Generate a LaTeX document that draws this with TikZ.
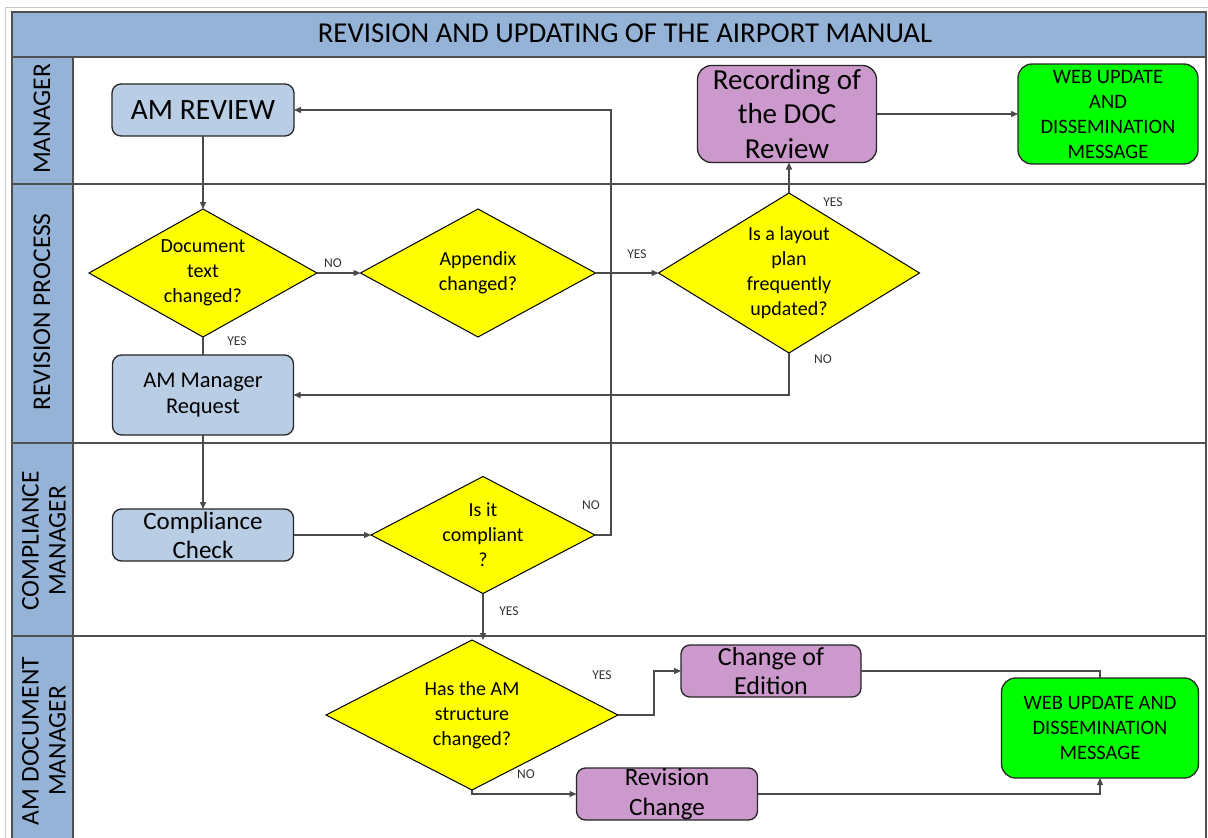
\documentclass[tikz,border=0pt]{standalone}
\usepackage{fontspec}
\setmainfont{Carlito}
\usetikzlibrary{shapes.geometric,arrows.meta,calc}
\definecolor{hdrblue}{HTML}{95B3D7}
\definecolor{boxblue}{HTML}{B9CDE5}
\definecolor{purp}{HTML}{CC99CC}
\definecolor{grn}{HTML}{00FF00}
\definecolor{yel}{HTML}{FFFF00}
\definecolor{linec}{HTML}{4A4A4A}
\definecolor{lanec}{HTML}{505050}
\definecolor{framec}{HTML}{C8C8C8}
\newcommand{\fsz}[2]{\fontsize{#1}{#2}\selectfont}
\begin{document}
\begin{tikzpicture}[x=1pt,y=-1pt,
  every node/.style={inner sep=0pt, outer sep=0pt},
  box/.style={rectangle, rounded corners=9pt, draw=black!85, line width=1.3pt},
  bluebox/.style={box, fill=boxblue},
  purpbox/.style={box, fill=purp},
  grnbox/.style={box, fill=grn, rounded corners=14pt},
  dia/.style={diamond, draw=black, line width=1pt, fill=yel},
  txt/.style={align=center, text=black},
  conn/.style={draw=linec, line width=1.3pt, -{Triangle[length=7pt,width=6pt]}},
  plain/.style={draw=linec, line width=1.3pt},
  yn/.style={font=\fsz{13.5}{15}, text=black!80},
  lane/.style={rotate=90, align=center, font=\fsz{25.5}{27}},
]
\useasboundingbox (0,0) rectangle (1208,838);
\fill[white] (0,0) rectangle (1208,838);
% outer light frame
\draw[framec, line width=1pt] (5,838) -- (5,7) -- (1208,7);
% header
\filldraw[fill=hdrblue, draw=lanec, line width=1.3pt] (12,12) rectangle (1206,57);
\node[font=\fsz{28.8}{32}] (title) at (625,33) {REVISION AND UPDATING OF THE AIRPORT MANUAL};
% label column
\filldraw[fill=hdrblue, draw=lanec, line width=1.3pt] (12,57) rectangle (73,840);
\draw[lanec, line width=1.3pt] (1206,57) -- (1206,840);
\foreach \yy in {184,443,636} \draw[lanec, line width=1.5pt] (12,\yy) -- (1206,\yy);
% lane labels
\node[lane] (l1) at (42,119) {MANAGER};
\node[lane] (l2) at (42,312) {REVISION PROCESS};
\node[lane] (l3) at (44,541) {COMPLIANCE\\MANAGER};
\node[lane] (l4) at (44,741) {AM DOCUMENT\\MANAGER};

% nodes
\node[bluebox, minimum width=182pt, minimum height=52pt,
  label={[txt,font=\fsz{29.5}{34}]center:AM REVIEW}] (amreview) at (203,110) {};
\node[dia, minimum width=228pt, minimum height=128pt,
  label={[txt,font=\fsz{20}{25}]center:{Document\\text\\changed?}}] (doc) at (203,273) {};
\node[dia, minimum width=235pt, minimum height=128pt,
  label={[txt,font=\fsz{20}{25}]center:{Appendix\\changed?}}] (app) at (478,273) {};
\node[dia, minimum width=261pt, minimum height=160pt,
  label={[txt,font=\fsz{20}{25}]center:{Is a layout\\plan\\frequently\\updated?}}] (layout) at (789,273) {};
\node[bluebox, minimum width=181pt, minimum height=80pt,
  label={[txt,font=\fsz{22.5}{26}]center:{AM Manager\\Request}}] (amreq) at (203,395) {};
\node[bluebox, minimum width=181pt, minimum height=52pt,
  label={[txt,font=\fsz{25}{29}]center:{Compliance\\Check}}] (comp) at (203,535) {};
\node[dia, minimum width=224pt, minimum height=117pt,
  label={[txt,font=\fsz{20}{25}]center:{Is it\\compliant\\?}}] (isc) at (483,535) {};
\node[purpbox, rounded corners=14pt, minimum width=179pt, minimum height=97pt,
  label={[txt,font=\fsz{29}{34.5}]center:{Recording of\\the DOC\\Review}}] (rec) at (787,114) {};
\node[grnbox, minimum width=180pt, minimum height=100pt,
  label={[txt,font=\fsz{20.5}{25}]center:{WEB UPDATE\\AND\\DISSEMINATION\\MESSAGE}}] (web1) at (1108,114) {};
\node[dia, minimum width=292pt, minimum height=150pt,
  label={[txt,font=\fsz{20}{25}]center:{Has the AM\\structure\\changed?}}] (has) at (472,715) {};
\node[purpbox, minimum width=180pt, minimum height=52pt,
  label={[txt,font=\fsz{26}{29}]center:{Change of\\Edition}}] (coe) at (771,671) {};
\node[purpbox, minimum width=181pt, minimum height=52pt,
  label={[txt,font=\fsz{25}{30}]center:{Revision\\Change}}] (revc) at (667,794) {};
\node[grnbox, minimum width=197pt, minimum height=100pt,
  label={[txt,font=\fsz{20.5}{25}]center:{WEB UPDATE AND\\DISSEMINATION\\MESSAGE}}] (web2) at (1100,728) {};

\coordinate (nob) at (611,110);

% connectors
\draw[conn] (amreview.south) -- (doc.north);
\draw[conn] (doc.east) -- (app.west);
\draw[plain] (doc.south) -- (amreq.north);
\draw[conn] (app.east) -- (layout.west);
\draw[conn] (layout.north) -- (layout.north |- rec.south);
\draw[conn] (layout.south) |- (amreq.east);
\draw[conn] (amreq.south) -- (comp.north);
\draw[conn] (comp.east) -- (isc.west);
\draw[conn] (isc.east) -| (nob) -- (amreview.east);
\draw[conn] (isc.south) -- (isc.south |- has.north);
\draw[conn] (has.east) -- ++(36,0) |- (coe.west);
\draw[conn] (has.south) |- (revc.west);
\draw[plain] (coe.east) -| (web2.north);
\draw[conn] (revc.east) -| (web2.south);
\draw[conn] (rec.east) -- (web1.west);

% yes/no labels
\node[yn] (n1) at (333,263) {NO};
\node[yn] (y1) at (237,341) {YES};
\node[yn] (y2) at (637,254) {YES};
\node[yn] (y3) at (833,202) {YES};
\node[yn] (n2) at (823,359) {NO};
\node[yn] (n3) at (591,505) {NO};
\node[yn] (y4) at (509,611) {YES};
\node[yn] (y5) at (602,675) {YES};
\node[yn] (n4) at (526,774) {NO};
\end{tikzpicture}
\end{document}
